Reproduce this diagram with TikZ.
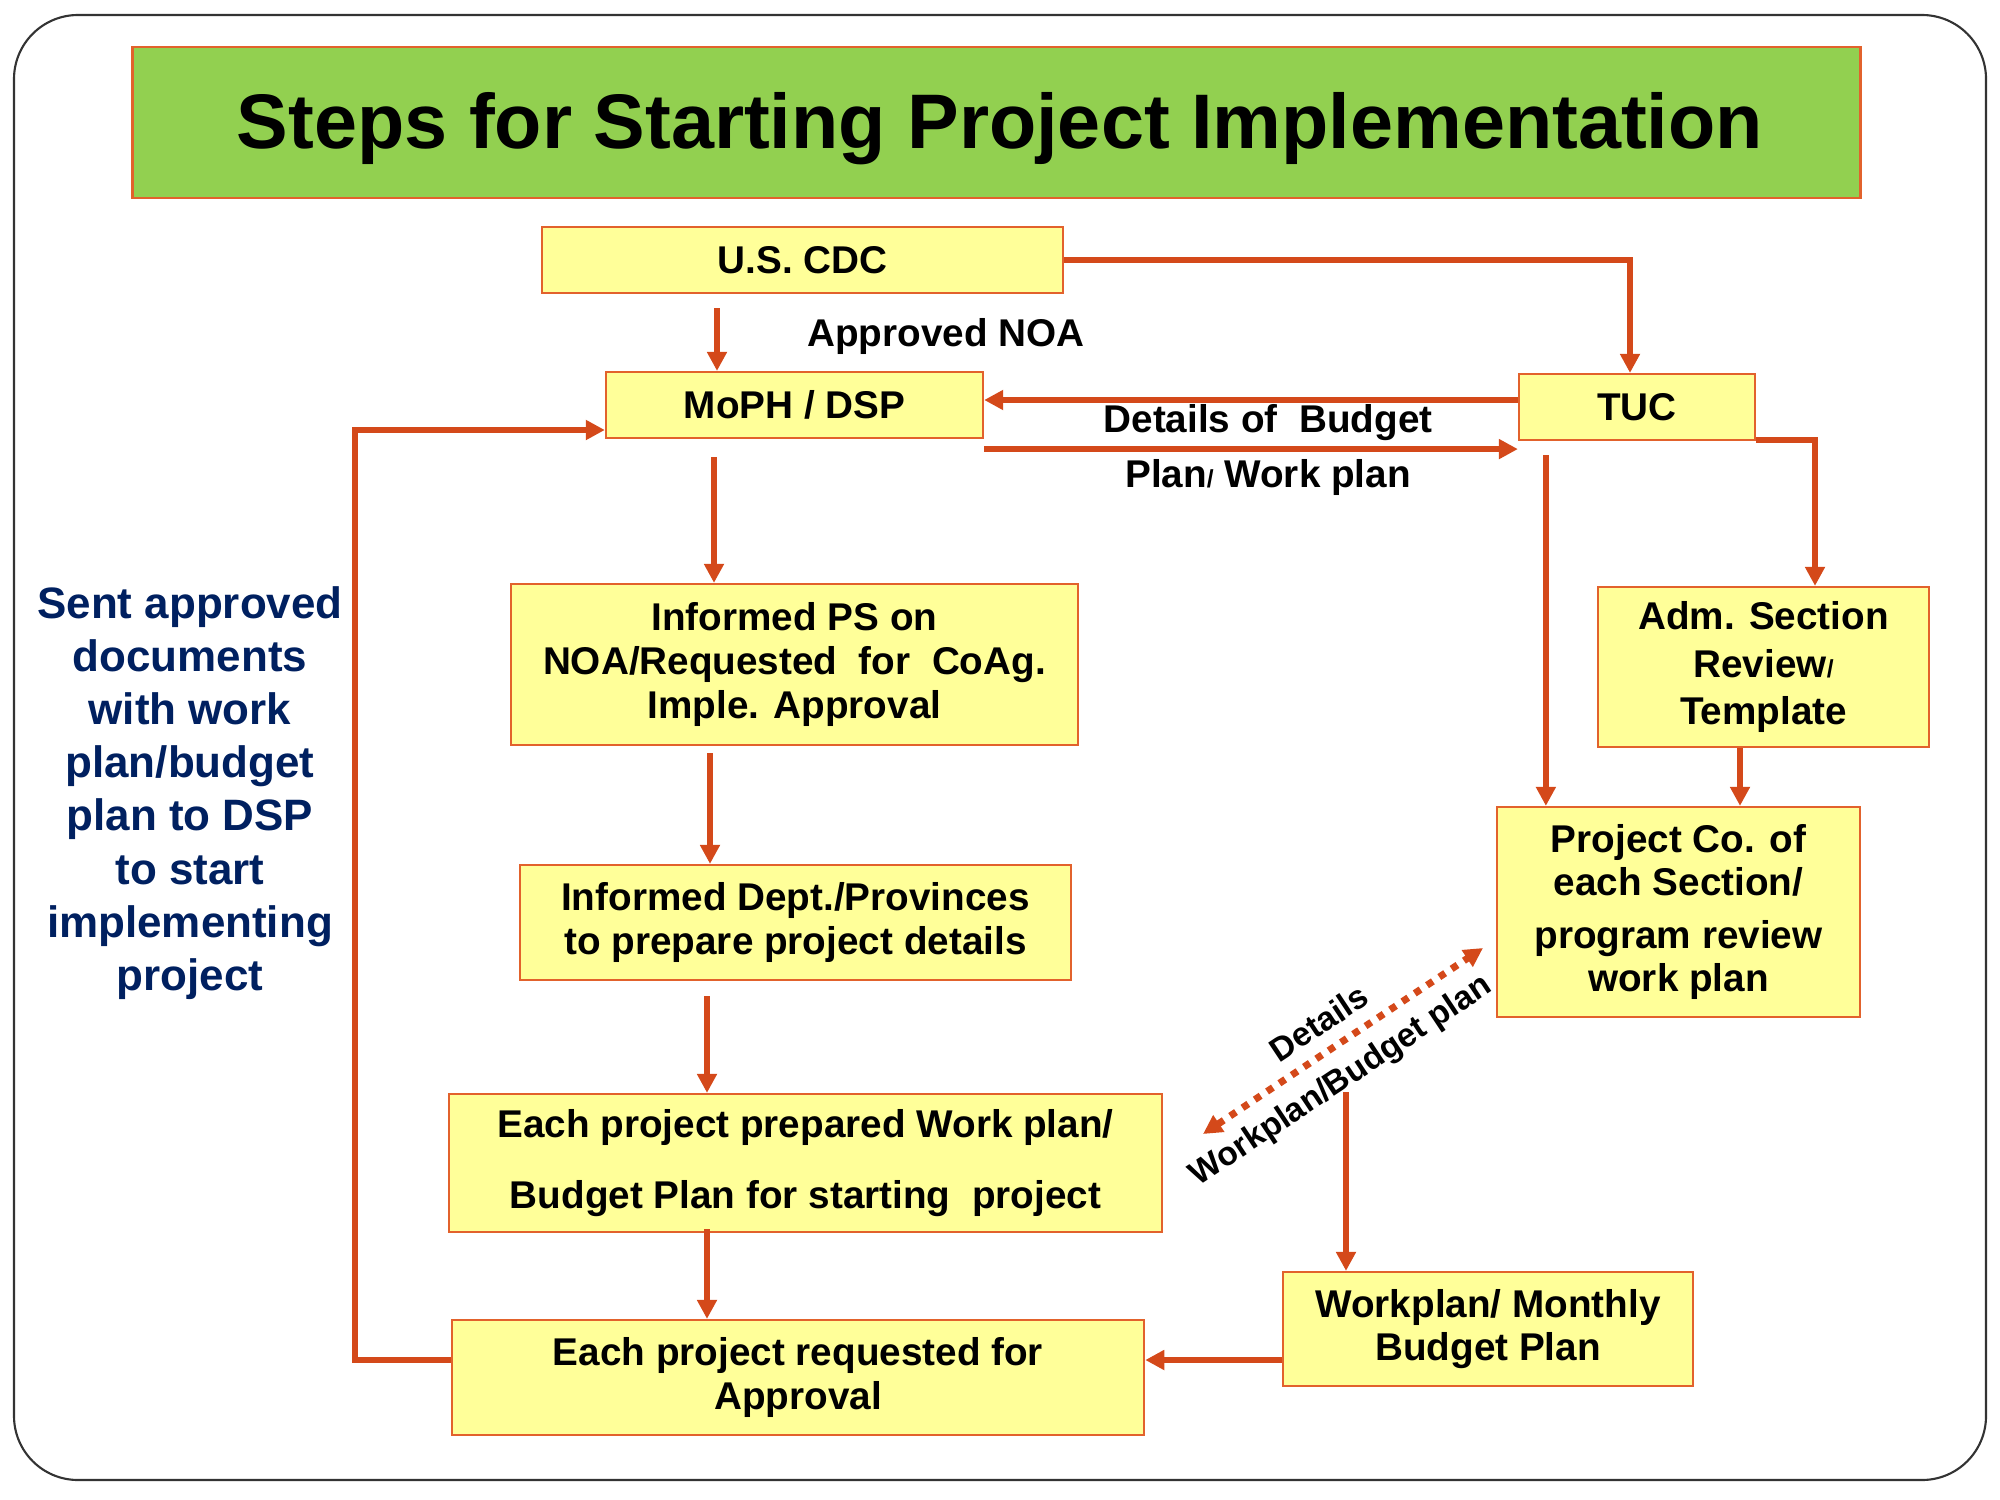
\documentclass[tikz,border=0pt]{standalone}
\usepackage{fontspec}
\setmainfont{Liberation Sans}
\usetikzlibrary{arrows.meta,calc,positioning}
\definecolor{linkred}{RGB}{212,73,26}
\definecolor{boxline}{RGB}{226,98,44}
\definecolor{boxfill}{RGB}{255,255,153}
\definecolor{titlegreen}{RGB}{146,208,80}
\definecolor{navyblue}{RGB}{0,32,96}
\newcommand{\smallslash}{{\fontsize{7}{7}\selectfont/}}

\begin{document}
\begin{tikzpicture}[x=0.01cm, y=-0.01cm,
    box/.style={draw=boxline, fill=boxfill, line width=0.6pt, inner sep=0pt,
                align=center, font=\fontsize{11}{12.4}\selectfont\bfseries},
    link/.style={draw=linkred, line width=1.6pt, -{Triangle[length=0.19cm,width=0.19cm]}},
    lbl/.style={font=\fontsize{11}{12.4}\selectfont\bfseries}]

    \useasboundingbox (0,0) rectangle (2000,1500);

    % outer frame and title
    \draw[line width=0.6pt, black!80, rounded corners=0.64cm] (14,15) rectangle (1986,1480);
    \node[draw=boxline, fill=titlegreen, line width=0.8pt, minimum width=17.27cm, minimum height=1.51cm]
        (titlebox) at (996.5,122.5) {};
    \node[font=\fontsize{22}{26}\selectfont\bfseries] (title) at (1000,129)
        {Steps for Starting Project Implementation};

    % boxes
    \node[box, minimum width=5.21cm, minimum height=0.66cm] (cdc) at (802.5,260) {U.S. CDC};
    \node[box, minimum width=3.77cm, minimum height=0.66cm] (moph) at (794.5,405) {MoPH / DSP};
    \node[box, minimum width=2.36cm, minimum height=0.66cm] (tuc) at (1637,407) {TUC};
    \node[box, minimum width=5.67cm, minimum height=1.61cm] (infps) at (794.5,664.5)
        {Informed PS on\\NOA/Requested\ \ for\ \ CoAg.\\Imple. Approval};
    \node[box, minimum width=3.31cm, minimum height=1.60cm, font=\fontsize{11}{13.4}\selectfont\bfseries]
        (adm) at (1763.5,667) {Adm. Section\\Review\smallslash\\Template};
    \node[box, minimum width=5.51cm, minimum height=1.15cm] (dept) at (795.5,922.5)
        {Informed Dept./Provinces\\to prepare project details};
    \node[box, minimum width=3.63cm, minimum height=2.10cm] (projco) at (1678.5,912)
        {Project Co. of\\each Section/\\[0.09cm]program review\\work plan};
    \node[box, minimum width=7.13cm, minimum height=1.38cm, font=\fontsize{11}{20}\selectfont\bfseries]
        (prep) at (805.5,1163) {Each project prepared Work plan/\\Budget Plan for starting\ \ project};
    \node[box, minimum width=4.10cm, minimum height=1.14cm] (wplan) at (1488,1329)
        {Workplan/ Monthly\\Budget Plan};
    \node[box, minimum width=6.92cm, minimum height=1.15cm] (req) at (798,1377.5)
        {Each project requested for\\Approval};

    % free labels
    \node[lbl] (noa) at (946,336) {Approved NOA};
    \node[lbl] (dbp1) at (1268,423) {Details of\ \ Budget};
    \node[lbl] (dbp2) at (1268,477) {Plan\smallslash\ Work plan};
    \node[align=center, text=navyblue, font=\fontsize{12.5}{15.1}\selectfont\bfseries] (sent) at (190,793)
        {Sent approved\\documents\\with work\\plan/budget\\plan to DSP\\to start\\implementing\\project};

    % connectors
    \draw[link] ($(cdc.south)+(-85.5,14)$) coordinate (c1) -- (c1 |- moph.north);
    \draw[link] (cdc.east) -| ($(tuc.north)+(-7,0)$);
    \draw[link] ($(tuc.west)+(0,-7)$) coordinate (t0) -- (t0 -| moph.east);
    \draw[link] ($(moph.south east)+(0,10)$) coordinate (m0) -- (m0 -| tuc.west);
    \draw[link] ($(moph.south)+(-80.5,18)$) coordinate (m1) -- (m1 |- infps.north);
    \draw[link] ($(infps.south)+(-84.5,7)$) coordinate (p1) -- (p1 |- dept.north);
    \draw[link] ($(dept.south)+(-88.5,15)$) coordinate (d1) -- (d1 |- prep.north);
    \draw[link] ($(prep.south)+(-98.5,-4)$) coordinate (e1) -- (e1 |- req.north);
    \draw[link] ($(req.west)+(0,-17.5)$) -| (355,800) |- ($(moph.west)+(0,25)$);
    \draw[link] ($(tuc.south east)+(0,-1)$) -| ($(adm.north)+(51.5,0)$);
    \draw[link] ($(tuc.south west)+(28,14)$) coordinate (t1) -- (t1 |- projco.north);
    \draw[link] ($(adm.south)+(-23.5,0)$) coordinate (a1) -- (a1 |- projco.north);
    \coordinate (w1) at (1346,1092);
    \draw[link] (w1) -- (w1 |- wplan.north);
    \draw[link] ($(wplan.west)+(0,31)$) coordinate (w2) -- (w2 -| req.east);

    % dotted two-way arrow
    \coordinate (dl) at (1203,1134);
    \coordinate (dr) at (1483,948);
    \draw[linkred, line width=2pt, dash pattern=on 2pt off 2.2pt,
          {Triangle[length=0.19cm,width=0.19cm]}-{Triangle[length=0.19cm,width=0.19cm]}] (dl) -- (dr)
        node[pos=0.47, sloped, above=0.01cm, text=black, font=\fontsize{9.5}{11}\selectfont\bfseries] {Details}
        node[pos=0.43, sloped, below=0.02cm, text=black, font=\fontsize{9.5}{11}\selectfont\bfseries] {Workplan/Budget plan};
\end{tikzpicture}
\end{document}
